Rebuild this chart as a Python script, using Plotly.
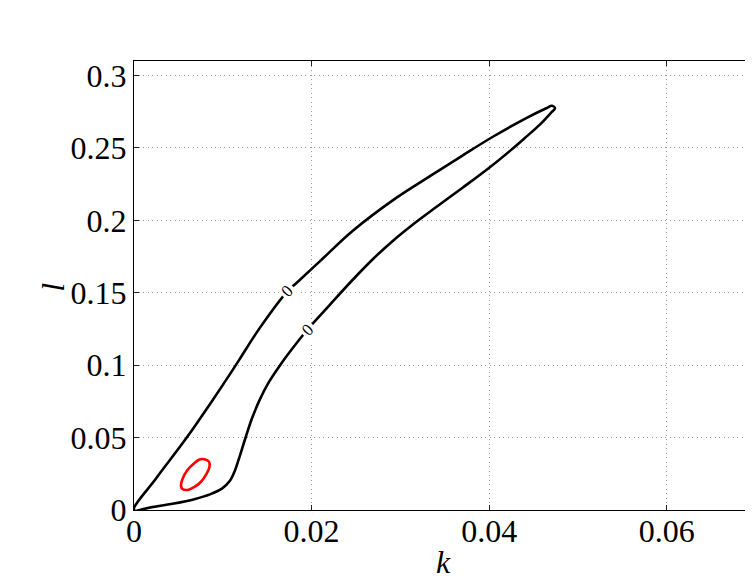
import plotly.graph_objects as go

# Zero-level contour (closed curve)
contour_k = [0.0, 0.00250, 0.00588, 0.00887, 0.01075, 0.01188, 0.01413,
             0.01732, 0.01827, 0.02089, 0.02464, 0.02953, 0.03328, 0.03703, 0.04041,
             0.04417, 0.04642, 0.04707, 0.04741,
             0.04690, 0.04570, 0.04400, 0.04240, 0.04000, 0.03700, 0.03400, 0.03130,
             0.02920, 0.02700, 0.02450, 0.02200, 0.01957, 0.01790, 0.01645, 0.01520,
             0.01415, 0.01330, 0.01262, 0.01190, 0.01138, 0.01078, 0.00990, 0.00855,
             0.00680, 0.00450, 0.00200, 0.0]
contour_l = [0.0, 0.0219, 0.0495, 0.0760, 0.0933, 0.1040, 0.1254,
             0.1513, 0.1566, 0.1715, 0.1928, 0.2155, 0.2303, 0.2449, 0.2577,
             0.2706, 0.2774, 0.2791, 0.2774,
             0.2739, 0.2661, 0.2568, 0.2483, 0.2363, 0.2225, 0.2090, 0.1966,
             0.1861, 0.1738, 0.1581, 0.1413, 0.1248, 0.1120, 0.1000, 0.0884,
             0.0760, 0.0635, 0.0511, 0.0370, 0.0275, 0.0200, 0.0148, 0.0108,
             0.0075, 0.0045, 0.0020, 0.0]

# Small red closed curve
red_k = [0.00794, 0.00845, 0.00850, 0.00816, 0.00755, 0.00681, 0.00602, 0.00546,
         0.00529, 0.00546, 0.00602, 0.00681, 0.00738, 0.00794]
red_l = [0.0350, 0.0332, 0.0297, 0.0249, 0.0195, 0.0159, 0.0138, 0.0145,
         0.0166, 0.0214, 0.0276, 0.0325, 0.0349, 0.0350]

# Contour labels
label_k = [0.01732, 0.01957]
label_l = [0.1513, 0.1248]
label_text = ["0", "0"]
label_angle = [-45, -45]

x_ticks = [0, 0.02, 0.04, 0.06]
x_ticktext = ["0", "0.02", "0.04", "0.06"]
y_ticks = [0, 0.05, 0.1, 0.15, 0.2, 0.25, 0.3]
y_ticktext = ["0", "0.05", "0.1", "0.15", "0.2", "0.25", "0.3"]
x_range = [0, 0.0697]
y_range = [0, 0.31]

FONT = "Liberation Serif"
GRID = dict(showgrid=True, gridcolor="#9a9a9a", griddash="1px,3.5px", gridwidth=1)

fig = go.Figure()
fig.add_trace(go.Scatter(x=contour_k, y=contour_l, mode="lines",
                         line=dict(color="black", width=2.6, shape="spline", smoothing=1.0),
                         showlegend=False, hoverinfo="skip"))
fig.add_trace(go.Scatter(x=red_k, y=red_l, mode="lines", yaxis="y2",
                         line=dict(color="#ff0000", width=2.6, shape="spline", smoothing=1.0),
                         showlegend=False, hoverinfo="skip"))

for k, l, t, a in zip(label_k, label_l, label_text, label_angle):
    fig.add_annotation(x=k, y=l, xref="x", yref="y", text=t, showarrow=False,
                       textangle=a, bgcolor="white", borderpad=2,
                       font=dict(family=FONT, size=17, color="black"))

fig.add_annotation(xref="paper", yref="paper", x=0.5, y=-0.116, text="<i>k</i>",
                   showarrow=False, xanchor="center", yanchor="middle",
                   font=dict(family=FONT, size=32, color="black"))
fig.add_annotation(xref="paper", yref="paper", x=-0.131, y=0.497, text="<i>l</i>",
                   showarrow=False, xanchor="center", yanchor="middle", textangle=-90,
                   font=dict(family=FONT, size=32, color="black"))

# the page body has an 8px margin: the figure is sized so that it fills the window
fig.update_layout(
    width=745, height=580,
    margin=dict(l=126, r=0, t=53, b=78, autoexpand=False),
    paper_bgcolor="white", plot_bgcolor="white",
    font=dict(family=FONT, size=32, color="black"),
    xaxis=dict(range=x_range, tickvals=x_ticks, ticktext=x_ticktext, automargin=False,
               ticks="inside", ticklen=5, tickwidth=1, tickcolor="#222",
               ticklabelstandoff=-7,
               showline=True, linecolor="black", linewidth=1, mirror="ticks",
               zeroline=False, tickfont=dict(family=FONT, size=32, color="black"), **GRID),
    yaxis=dict(range=y_range, tickvals=y_ticks, ticktext=y_ticktext, automargin=False,
               ticks="inside", ticklen=5, tickwidth=1, tickcolor="#222",
               showline=True, linecolor="black", linewidth=1, mirror=False,
               zeroline=False, tickfont=dict(family=FONT, size=32, color="black"), **GRID),
    yaxis2=dict(range=y_range, overlaying="y", side="right", tickvals=y_ticks, automargin=False,
                ticks="inside", ticklen=5, tickwidth=1, tickcolor="#222",
                showticklabels=False, showline=False, showgrid=False, zeroline=False),
)

fig.write_html("out.html")
